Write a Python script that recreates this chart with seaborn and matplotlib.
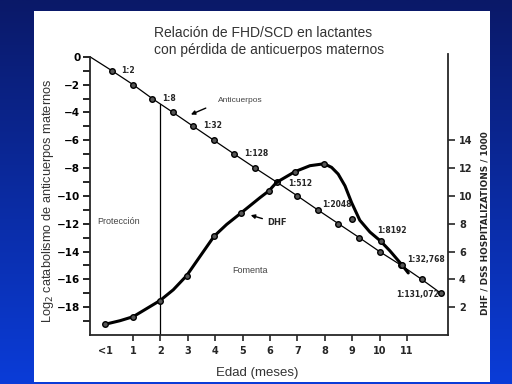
import matplotlib
matplotlib.use("Agg")
import matplotlib.pyplot as plt
import numpy as np
import seaborn as sns
from matplotlib.patches import Rectangle

# antibody decay (left axis, log2 titre)
ab_x = [-0.57, 0.23, 1.0, 1.7, 2.46, 3.2, 3.95, 4.7, 5.46, 6.24, 7.0, 7.74,
        8.5, 9.26, 10.0, 10.8, 11.54, 12.24]
ab_y = [0, -1, -2, -3, -4, -5, -6, -7, -8, -9, -10, -11, -12, -13, -14,
        -15, -16, -17]

# DHF hospitalizations curve (right axis)
dhf_x = [-0.02, 0.53, 1.01, 1.99, 2.47, 2.96, 3.45, 3.96, 4.42, 4.93, 5.64,
         5.96, 6.24, 6.91, 7.46, 7.98, 8.25, 8.49, 8.74, 8.98, 9.28, 9.65,
         10.04, 10.38, 10.81, 11.05]
dhf_y = [0.77, 1.03, 1.32, 2.48, 3.25, 4.27, 5.66, 7.1, 7.95, 8.75, 9.88,
         10.36, 10.97, 11.74, 12.17, 12.31, 12.05, 11.57, 10.72, 9.52, 8.25,
         7.4, 6.75, 6.05, 5.06, 4.46]
dhf_mx = [-0.02, 1.01, 1.99, 2.96, 3.96, 4.93, 5.96, 6.91, 7.98, 9.0, 10.04, 10.81]
dhf_my = [0.77, 1.32, 2.48, 4.27, 7.1, 8.75, 10.36, 11.74, 12.31, 8.37, 6.75, 5.06]

ratio_labels = ["1:2", "1:8", "1:32", "1:128", "1:512", "1:2048", "1:8192",
                "1:32,768", "1:131,072"]
ratio_x = [0.56, 2.06, 3.55, 5.05, 6.66, 7.9, 9.9, 11.0, 10.6]
ratio_y = [-1.0, -3.0, -4.95, -6.96, -9.1, -10.6, -12.5, -14.6, -17.1]

month_ticks = list(range(0, 12))
month_labels = ["<1"] + [str(m) for m in range(1, 12)]

sns.set_style("ticks")
plt.rcParams['font.family'] = ['DejaVu Sans']

fig = plt.figure(figsize=(5.12, 3.84), dpi=100)

# slide background
bg = fig.add_axes([0, 0, 1, 1], zorder=-10)
grad = np.linspace(0, 1, 256).reshape(-1, 1)
cmap = matplotlib.colors.LinearSegmentedColormap.from_list("slide", ["#0a1968", "#0b3cd8"])
bg.imshow(grad, aspect='auto', cmap=cmap, extent=[0, 1, 0, 1], origin='upper')
bg.add_patch(Rectangle((34/512, 2/384), 456/512, 371/384, transform=bg.transAxes,
                       facecolor='white', edgecolor='none'))
bg.axis('off')

ax = fig.add_axes([90/512, 49/384, 358/512, 281/384])
ax.set_facecolor('none')
ax2 = ax.twinx()

sns.lineplot(x=ab_x, y=ab_y, ax=ax, color='black', lw=0.9, sort=False, estimator=None)
sns.scatterplot(x=ab_x[1:], y=ab_y[1:], ax=ax, s=16, color='#555555',
                edgecolor='black', linewidth=1.0, zorder=5)
ax.plot([2, 2], [-20, -3.4], color='black', lw=0.9)

sns.lineplot(x=dhf_x, y=dhf_y, ax=ax2, color='black', lw=2.2, sort=False, estimator=None)
sns.scatterplot(x=dhf_mx, y=dhf_my, ax=ax2, s=16, color='#555555',
                edgecolor='black', linewidth=1.0, zorder=5)

ax.set_xlim(-0.57, 12.5)
ax.set_ylim(-20, 0.2)
ax2.set_ylim(0, 20.2)

ax.set_yticks(range(0, -19, -2))
ax.set_yticklabels(["0"] + [f"\u2212{v}" for v in range(2, 19, 2)])
ax.set_yticks(range(-1, -20, -2), minor=True)
ax.set_xticks(month_ticks)
ax.set_xticklabels(month_labels)
ax2.set_yticks(range(2, 15, 2))

ax.tick_params(axis='y', which='both', direction='out', length=5, width=1.2, pad=2,
               labelsize=7.5, colors='black')
ax.tick_params(axis='x', direction='out', length=4, width=1.2, pad=4, labelsize=7)
ax.xaxis.get_ticklines()[0].set_visible(False)
ax2.tick_params(axis='y', direction='out', length=5, width=1.2, pad=3, labelsize=7)
for lab in ax.get_yticklabels() + ax.get_xticklabels() + ax2.get_yticklabels():
    lab.set_fontweight('bold')

for a in (ax, ax2):
    a.spines['top'].set_visible(False)
    for s in a.spines.values():
        s.set_linewidth(1.3)
ax.spines['left'].set_bounds(-20, 0)
ax.spines['right'].set_visible(False)
ax2.spines['left'].set_visible(False)
ax2.spines['bottom'].set_visible(False)
ax.set_xlabel("")
ax.set_ylabel("")

for lab, x, y in zip(ratio_labels, ratio_x, ratio_y):
    ax.text(x, y, lab, fontsize=5.5, fontweight='bold', ha='left', va='center')

slide = ['Liberation Sans', 'DejaVu Sans']
ax.text(4.1, -3.16, "Anticuerpos", fontsize=6, family=slide, color='#444444', va='center')
ax.annotate("", xy=(3.02, -4.23), xytext=(3.75, -3.61),
            arrowprops=dict(arrowstyle='-|>', color='black', lw=1.0, mutation_scale=6))
ax.text(-0.31, -11.84, "Protección", fontsize=6.5, family=slide, color='#444444', va='center')
ax.text(4.61, -15.35, "Fomenta", fontsize=6.5, family=slide, color='#444444', va='center')
ax.text(5.9, -11.9, "DHF", fontsize=6, fontweight='bold', va='center')
ax.annotate("", xy=(5.2, -11.33), xytext=(5.82, -11.69),
            arrowprops=dict(arrowstyle='-|>', color='black', lw=1.0, mutation_scale=6))

fig.text(154/512, 1 - 33/384, "Relación de FHD/SCD en lactantes", fontsize=10,
         family=slide, color='#333333', va='center', ha='left')
fig.text(154/512, 1 - 50/384, "con pérdida de anticuerpos maternos", fontsize=10,
         family=slide, color='#333333', va='center', ha='left')
fig.text(48/512, 1 - 201/384, "Log$_2$ catabolismo de anticuerpos maternos", fontsize=9.2,
         family=slide, color='#333333', rotation=90, va='center', ha='center')
fig.text(485/512, 1 - 223/384, "DHF / DSS HOSPITALIZATIONS / 1000", fontsize=6.4,
         fontweight='bold', rotation=90, va='center', ha='center')
fig.text(257/512, 1 - 373/384, "Edad (meses)", fontsize=9.5, family=slide,
         color='#333333', va='center', ha='center')

fig.savefig("out.png", dpi=100)
